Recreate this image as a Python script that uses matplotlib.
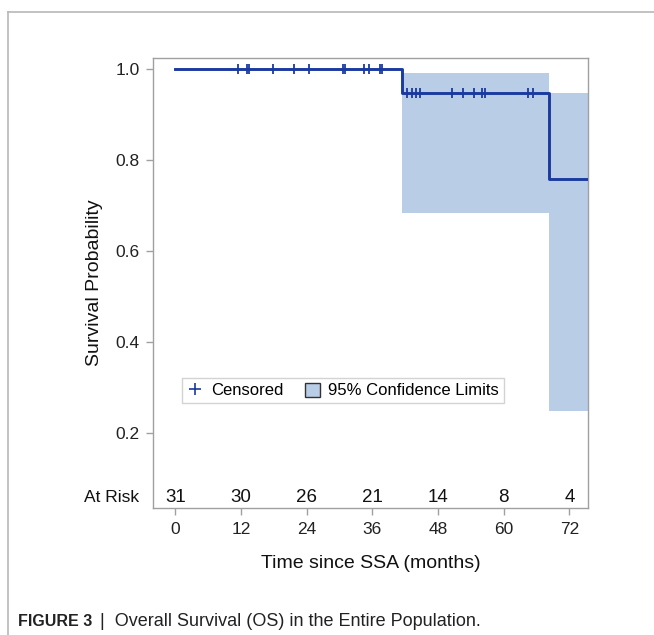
import matplotlib
matplotlib.use("Agg")
import matplotlib.pyplot as plt
from matplotlib.lines import Line2D
from matplotlib.patches import Patch

plt.rcParams['font.family'] = ['Liberation Sans', 'DejaVu Sans']

# Kaplan-Meier estimate
step_time = [0, 41.5, 68.3, 76.0]
step_surv = [1.0, 0.947, 0.758, 0.758]

ci_time = [41.5, 68.3, 76.0]
ci_low = [0.683, 0.248, 0.248]
ci_high = [0.9925, 0.949, 0.949]

cens_time_1 = [11.5, 13.0, 13.5, 17.9, 21.6, 24.5, 30.6, 30.9, 34.4, 35.3, 37.3, 37.8]
cens_time_2 = [42.4, 43.2, 43.9, 44.7, 50.5, 52.6, 54.5, 56.1, 56.5, 64.5, 65.3]

risk_times = [0, 12, 24, 36, 48, 60, 72]
risk_counts = [31, 30, 26, 21, 14, 8, 4]

line_col = '#1a3aa0'
band_col = '#b9cde6'
grey = '#a0a0a0'

fig = plt.figure(figsize=(6.54, 6.35), dpi=100)
ax = fig.add_axes([0.234, 1 - 508 / 635, 0.665, (508 - 58) / 635])

ax.fill_between(ci_time, ci_low, ci_high, step='post', color=band_col, lw=0, zorder=1)
ax.step(step_time, step_surv, where='post', color=line_col, lw=2.1, zorder=3)
ax.plot(cens_time_1, [step_surv[0]] * len(cens_time_1), ls='none', marker='|',
        ms=7.5, mew=1.3, color=line_col, zorder=4)
ax.plot(cens_time_2, [step_surv[1]] * len(cens_time_2), ls='none', marker='|',
        ms=7.5, mew=1.3, color=line_col, zorder=4)

ax.set_xlim(-4.1, 75.4)
ax.set_ylim(0.034, 1.025)
ax.set_xticks(risk_times)
ax.set_yticks([0.2, 0.4, 0.6, 0.8, 1.0])
ax.set_yticklabels(['0.2', '0.4', '0.6', '0.8', '1.0'])
ax.tick_params(direction='out', length=5, width=1, color=grey, labelsize=12.5,
               labelcolor='#222222', pad=4.5)
ax.tick_params(axis='x', pad=5)
for s in ax.spines.values():
    s.set_color(grey)
    s.set_linewidth(1)

ax.set_xlabel('Time since SSA (months)', fontsize=14, labelpad=13, color='#111111')
ax.set_ylabel('Survival Probability', fontsize=14, labelpad=9, color='#111111')

# numbers at risk inside the plot area
for t, n in zip(risk_times, risk_counts):
    ax.text(t, 0.058, str(n), ha='center', va='center', fontsize=13.5, color='#111111')
ax.text(-0.032, 0.058, 'At Risk', transform=ax.get_yaxis_transform(),
        ha='right', va='center', fontsize=12.5, color='#111111')

handles = [Line2D([], [], ls='none', marker='+', ms=9, mew=1.2, color=line_col),
           Patch(facecolor=band_col, edgecolor='#333333', lw=1)]
leg = ax.legend(handles, ['Censored', '95% Confidence Limits'], ncol=2,
                loc='center', bbox_to_anchor=(0.437, (508 - 390.5) / 450), fontsize=12,
                frameon=True, fancybox=False, handlelength=0.9, handleheight=0.9,
                handletextpad=0.5, columnspacing=1.3, borderpad=0.3, borderaxespad=0)
leg.get_frame().set_edgecolor('#c8c8c8')
leg.get_frame().set_linewidth(1)

# outer panel frame
fig.add_artist(Line2D([8 / 654, 1], [1 - 12 / 635, 1 - 12 / 635], color='#b8b8b8', lw=1.2))
fig.add_artist(Line2D([8 / 654, 8 / 654], [0, 1 - 12 / 635], color='#b8b8b8', lw=1.2))

fig.text(18 / 654, 1 - 621 / 635, 'FIGURE 3', fontsize=11.5, fontweight='bold',
         ha='left', va='center', color='#222222')
fig.text(100 / 654, 1 - 621 / 635, '|  Overall Survival (OS) in the Entire Population.',
         fontsize=13, ha='left', va='center', color='#222222',
         family=['Liberation Sans Narrow', 'Liberation Sans'])

fig.savefig('out.png', dpi=100, facecolor='white')
